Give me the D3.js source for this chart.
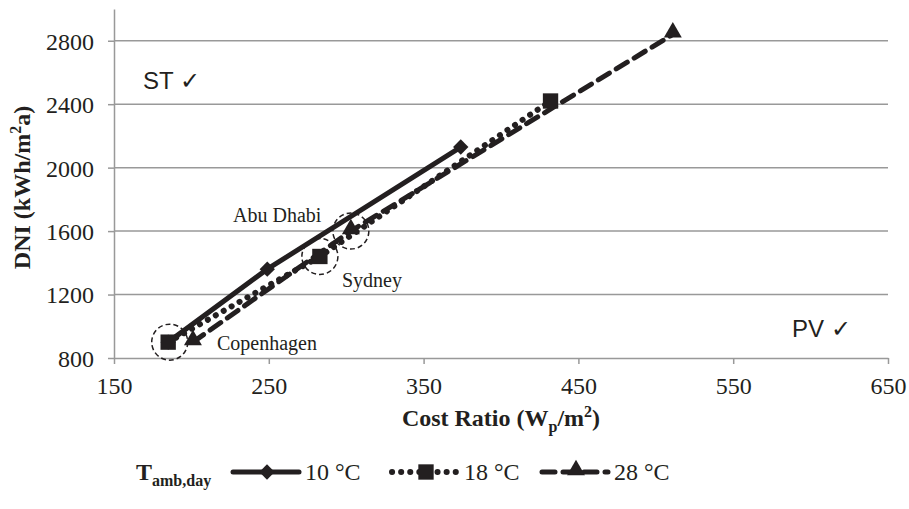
<!DOCTYPE html>
<html>
<head>
<meta charset="utf-8">
<script src="https://cdnjs.cloudflare.com/ajax/libs/d3/7.8.5/d3.min.js"></script>
<style>
  body { margin: 0; background: #fff; }
  text { font-family: "Liberation Serif", "Times New Roman", serif; fill: #231f20; }
  .sans { font-family: "Liberation Sans", Arial, sans-serif; }
</style>
</head>
<body>
<div id="chart"></div>
<script>
//data
var series = ["10 °C", "18 °C", "28 °C"];
var costRatio = [
  [185, 249, 374],
  [185, 283, 432],
  [201, 303, 511]
];
var dni = [
  [900, 1360, 2130],
  [900, 1440, 2420],
  [900, 1600, 2840]
];
var xTicks = [150, 250, 350, 450, 550, 650];
var yTicks = [800, 1200, 1600, 2000, 2400, 2800];
//places highlighted with dashed circles
var cities = ["Copenhagen", "Sydney", "Abu Dhabi"];
var cityCost = [186, 283, 303];
var cityDni = [900, 1440, 1600];

var width = 909,
    height = 509;

var ink = "#231f20",
    grid = "#999999";

var svg = d3.select("#chart").append("svg")
    .attr("width", width)
    .attr("height", height);

var x = d3.scaleLinear().domain([150, 650]).range([114, 888]);
var y = d3.scaleLinear().domain([800, 3000]).range([358, 9]);

//gridlines
svg.append("g")
  .selectAll("line")
  .data(yTicks.slice(1))
  .enter().append("line")
    .attr("x1", x(150)).attr("x2", x(650))
    .attr("y1", function(d) { return y(d); })
    .attr("y2", function(d) { return y(d); })
    .attr("stroke", grid)
    .attr("stroke-width", 1.5);

//axes
var xAxis = svg.append("g")
    .attr("transform", "translate(0," + y(800) + ")")
    .call(d3.axisBottom(x).tickValues(xTicks).tickFormat(d3.format("d"))
      .tickSize(6).tickPadding(13).tickSizeOuter(0));
var yAxis = svg.append("g")
    .attr("transform", "translate(" + x(150) + ",0)")
    .call(d3.axisLeft(y).tickValues(yTicks).tickFormat(d3.format("d"))
      .tickSize(6).tickPadding(14).tickSizeOuter(0));

[xAxis, yAxis].forEach(function(a) {
  a.select(".domain").attr("stroke", grid).attr("stroke-width", 1.5);
  a.selectAll(".tick line").attr("stroke", grid).attr("stroke-width", 1.5);
  a.selectAll(".tick text")
    .attr("fill", ink)
    .style("font-family", "Liberation Serif, serif")
    .style("font-size", "24px");
});
yAxis.selectAll(".tick text").attr("dy", "0.35em");
xAxis.selectAll(".tick text").attr("dy", "0.71em");

//axis titles
svg.append("text")
    .attr("x", (x(150) + x(650)) / 2)
    .attr("y", 426)
    .attr("text-anchor", "middle")
    .style("font-size", "24px")
    .style("font-weight", "bold")
    .html('Cost Ratio (W<tspan dy="6" font-size="16px">p</tspan><tspan dy="-6">/m</tspan><tspan dy="-9" font-size="16px">2</tspan><tspan dy="9">)</tspan>');

svg.append("text")
    .attr("transform", "translate(30," + ((y(800) + y(3000)) / 2 + 4) + ") rotate(-90)")
    .attr("text-anchor", "middle")
    .style("font-size", "24px")
    .style("font-weight", "bold")
    .html('DNI (kWh/m<tspan dy="-9" font-size="16px">2</tspan><tspan dy="9">a)</tspan>');

//line styles per series
var dashes = [null, "0.1 9", "13 8"];
var caps = ["butt", "round", "round"];

var line = d3.line()
    .x(function(d) { return x(d[0]); })
    .y(function(d) { return y(d[1]); });

function pts(i) {
  return costRatio[i].map(function(c, j) { return [c, dni[i][j]]; });
}

//marker shapes
var shapes = [
  d3.symbol().type(d3.symbolDiamond2).size(150),
  d3.symbol().type(d3.symbolSquare2).size(300),
  d3.symbol().type(d3.symbolTriangle2).size(230)
];

series.forEach(function(s, i) {
  svg.append("path")
      .attr("d", line(pts(i)))
      .attr("fill", "none")
      .attr("stroke", ink)
      .attr("stroke-width", i == 1 ? 6 : 5)
      .attr("stroke-linecap", caps[i])
      .attr("stroke-dasharray", dashes[i]);
});

series.forEach(function(s, i) {
  svg.append("g")
    .selectAll("path")
    .data(pts(i))
    .enter().append("path")
      .attr("d", shapes[i])
      .attr("transform", function(d) {
        var dy = i == 2 ? -2 : 0;
        return "translate(" + x(d[0]) + "," + (y(d[1]) + dy) + ")";
      })
      .attr("fill", ink);
});

//dashed circles round the cities
svg.append("g")
  .selectAll("circle")
  .data(cities)
  .enter().append("circle")
    .attr("cx", function(d, i) { return x(cityCost[i]); })
    .attr("cy", function(d, i) { return y(cityDni[i]); })
    .attr("r", 18)
    .attr("fill", "none")
    .attr("stroke", ink)
    .attr("stroke-width", 1.5)
    .attr("stroke-dasharray", "5 3");

//city names
var cityLabel = [[217, 350], [342, 287], [233, 222]];
svg.append("g")
  .selectAll("text")
  .data(cities)
  .enter().append("text")
    .attr("x", function(d, i) { return cityLabel[i][0]; })
    .attr("y", function(d, i) { return cityLabel[i][1]; })
    .style("font-size", "20px")
    .text(function(d) { return d; });

//region notes
svg.append("text").attr("class", "sans")
    .attr("x", 143).attr("y", 89)
    .style("font-size", "24px")
    .text("ST ✓");
svg.append("text").attr("class", "sans")
    .attr("x", 792).attr("y", 337)
    .style("font-size", "24px")
    .text("PV ✓");

//legend
var ly = 472;
svg.append("text")
    .attr("x", 136).attr("y", ly + 8)
    .style("font-size", "24px")
    .style("font-weight", "bold")
    .html('T<tspan dy="6" font-size="16px">amb,day</tspan>');

var legX = [233, 392, 542];
series.forEach(function(s, i) {
  var g = svg.append("g").attr("transform", "translate(" + legX[i] + "," + ly + ")");
  g.append("line")
      .attr("x1", 0).attr("x2", 66)
      .attr("stroke", ink)
      .attr("stroke-width", i == 1 ? 6 : 5)
      .attr("stroke-linecap", i == 0 ? "round" : caps[i])
      .attr("stroke-dasharray", dashes[i]);
  g.append("path")
      .attr("d", shapes[i])
      .attr("transform", "translate(34," + (i == 2 ? -2 : 0) + ")")
      .attr("fill", ink);
  g.append("text")
      .attr("x", 72).attr("y", 8)
      .style("font-size", "24px")
      .text(s);
});
</script>
</body>
</html>
